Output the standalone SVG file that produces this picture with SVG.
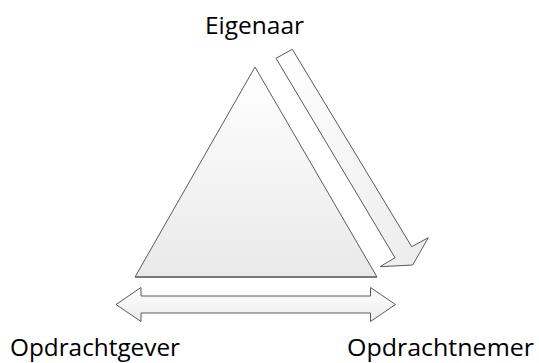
<svg xmlns="http://www.w3.org/2000/svg" width="539" height="363" viewBox="0 0 539 363">
  <defs>
    <linearGradient id="gTri" x1="0" y1="0" x2="0" y2="1">
      <stop offset="0" stop-color="#ffffff"/>
      <stop offset="1" stop-color="#e9e9e9"/>
    </linearGradient>
    <linearGradient id="gArr" x1="0" y1="0" x2="1" y2="0">
      <stop offset="0" stop-color="#ffffff"/>
      <stop offset="1" stop-color="#ebebeb"/>
    </linearGradient>
    <linearGradient id="gDbl" x1="0" y1="0" x2="0" y2="1">
      <stop offset="0" stop-color="#ffffff"/>
      <stop offset="1" stop-color="#ececec"/>
    </linearGradient>
  </defs>
  <style>
    .shape { stroke: #5a5a5a; stroke-width: 1; stroke-linejoin: miter; }
    .lbl { font-family: "Open Sans", "Noto Sans", sans-serif; font-size: 23px; fill: #000; }
  </style>
  <rect width="539" height="363" fill="#ffffff"/>

  <g id="triangle">
    <polygon class="shape" fill="url(#gTri)" points="255,67 135,277 377,277"/>
    <line x1="135" y1="277" x2="377" y2="277" stroke="#6a6a6a" stroke-width="1.6"/>
  </g>

  <g id="connectors">
    <polygon id="arrow-eigenaar-opdrachtnemer" class="shape" fill="url(#gArr)"
      points="292.3,49.3 411.7,246.7 428.3,237.7 412.7,265 380,266.7 395,257.7 276,58.3"/>
    <polygon id="arrow-gever-nemer" class="shape" fill="url(#gDbl)"
      points="116,304.5 141,287.5 141,296 370.5,296 370.5,287.5 395.5,304.5 370.5,321.5 370.5,313 141,313 141,321.5"/>
  </g>

  <g id="label-eigenaar">
    <text class="lbl" x="205" y="33.5" textLength="99" lengthAdjust="spacingAndGlyphs">Eigenaar</text>
  </g>
  <g id="label-opdrachtgever">
    <text class="lbl" x="10" y="355.5" textLength="170" lengthAdjust="spacingAndGlyphs">Opdrachtgever</text>
  </g>
  <g id="label-opdrachtnemer">
    <text class="lbl" x="347" y="355.5" textLength="187" lengthAdjust="spacingAndGlyphs">Opdrachtnemer</text>
  </g>
</svg>
